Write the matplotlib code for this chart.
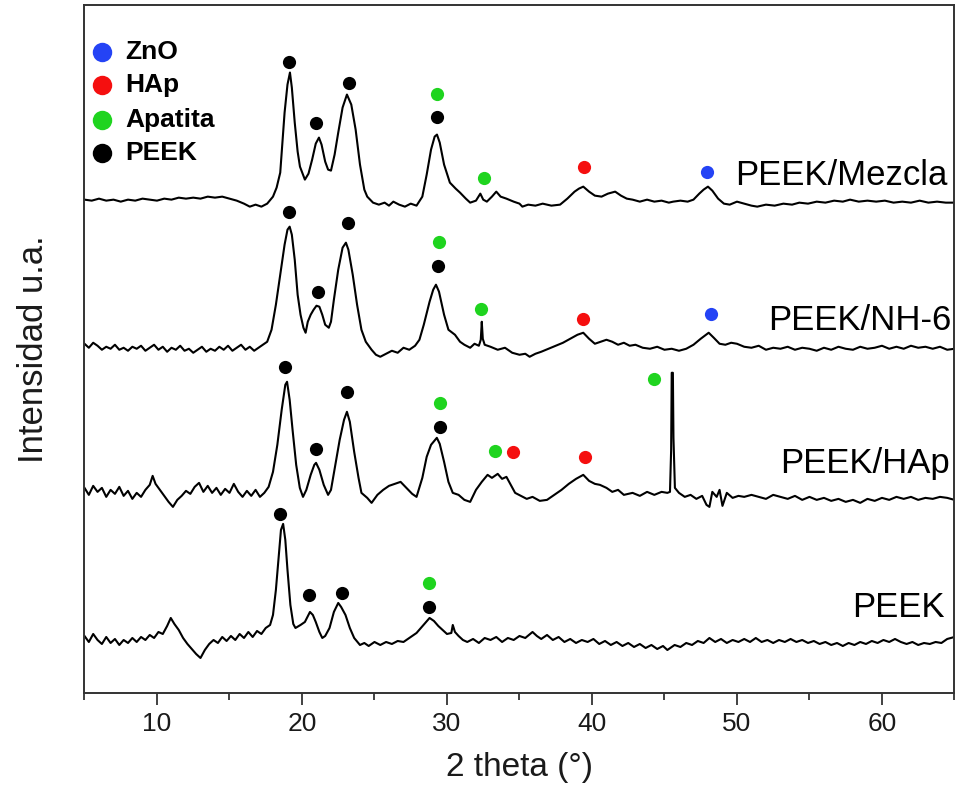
import matplotlib
matplotlib.use("Agg")
import matplotlib.pyplot as plt

plt.rcParams['font.family'] = ['Liberation Sans', 'DejaVu Sans']

# -------------------
# XRD traces: (2 theta, intensity a.u.), already stacked
# -------------------
mezcla = [
    (5.0, 500), (5.5, 499), (6.0, 501), (6.5, 499), (7.0, 500), (7.5, 498), (8.0, 500),
    (8.5, 499), (9.0, 501), (9.5, 500), (10.0, 499), (10.5, 501), (11.0, 500), (11.5, 502),
    (12.0, 501), (12.5, 502), (13.0, 501), (13.5, 503), (14.0, 502), (14.5, 503), (15.0, 501),
    (15.5, 499), (16.0, 496), (16.4, 493), (16.8, 495), (17.2, 493), (17.6, 496), (18.0, 503),
    (18.25, 512), (18.5, 527), (18.8, 587), (19.0, 615), (19.17, 627), (19.3, 612), (19.5, 577),
    (19.7, 548), (19.86, 533), (20.2, 520), (20.45, 526), (20.7, 540), (20.95, 556), (21.17, 562),
    (21.35, 555), (21.6, 538), (21.8, 530), (22.0, 529), (22.25, 545), (22.5, 567), (22.8, 592),
    (23.1, 605), (23.4, 595), (23.7, 570), (24.0, 535), (24.3, 510), (24.5, 503), (24.9, 497),
    (25.3, 495), (25.7, 497), (26.0, 494), (26.3, 498), (26.7, 495), (27.1, 493), (27.5, 496),
    (27.9, 494), (28.3, 503), (28.6, 525), (28.9, 550), (29.15, 563), (29.31, 565), (29.5, 557),
    (29.8, 535), (30.2, 517), (30.6, 511), (30.9, 507), (31.3, 501), (31.6, 497), (32.0, 499),
    (32.3, 506), (32.5, 500), (32.75, 498), (33.1, 503), (33.4, 508), (33.7, 503), (34.1, 501),
    (34.6, 498), (35.0, 496), (35.2, 493), (35.6, 495), (36.1, 494), (36.6, 496), (37.2, 494),
    (37.8, 495), (38.3, 501), (38.8, 508), (39.1, 511), (39.4, 513), (39.8, 508), (40.2, 504),
    (40.66, 503), (41.1, 506), (41.6, 508), (42.0, 504), (42.4, 501), (42.8, 500), (43.3, 498),
    (43.8, 500), (44.3, 498), (44.8, 499), (45.3, 497), (45.6, 498), (46.1, 499), (46.6, 498),
    (47.0, 500), (47.4, 506), (47.7, 510), (48.0, 513), (48.3, 509), (48.7, 501), (49.1, 496),
    (49.5, 495), (50.0, 498), (50.5, 496), (51.0, 494), (51.4, 493), (52.0, 495), (52.6, 494),
    (53.2, 496), (53.8, 495), (54.3, 497), (54.9, 496), (55.5, 498), (56.1, 497), (56.7, 499),
    (57.3, 498), (57.8, 500), (58.4, 498), (59.0, 499), (59.6, 498), (60.2, 499), (60.8, 497),
    (61.4, 498), (62.0, 497), (62.6, 499), (63.2, 497), (63.8, 498), (64.4, 497), (65.0, 497),
]

nh6 = [
    (5.0, 356), (5.3, 352), (5.6, 357), (5.9, 354), (6.2, 350), (6.5, 353), (6.8, 351),
    (7.1, 355), (7.4, 350), (7.7, 352), (8.0, 349), (8.3, 353), (8.6, 351), (8.9, 354),
    (9.2, 349), (9.5, 352), (9.8, 355), (10.1, 350), (10.4, 353), (10.7, 348), (11.0, 352),
    (11.3, 350), (11.6, 354), (11.9, 349), (12.2, 351), (12.5, 347), (12.8, 350), (13.1, 353),
    (13.4, 348), (13.7, 351), (14.0, 349), (14.3, 353), (14.6, 350), (14.9, 354), (15.2, 349),
    (15.5, 352), (15.8, 355), (16.1, 350), (16.4, 353), (16.7, 349), (17.0, 352), (17.3, 355),
    (17.6, 358), (17.9, 370), (18.2, 395), (18.5, 425), (18.8, 455), (19.0, 470), (19.15, 473),
    (19.3, 465), (19.5, 440), (19.7, 405), (19.9, 385), (20.1, 372), (20.25, 367), (20.4, 378),
    (20.6, 385), (20.8, 390), (21.0, 394), (21.2, 393), (21.4, 385), (21.6, 375), (21.85, 372),
    (22.0, 378), (22.2, 400), (22.5, 430), (22.8, 452), (23.03, 457), (23.2, 450), (23.5, 425),
    (23.8, 395), (24.1, 370), (24.4, 358), (24.8, 350), (25.1, 345), (25.4, 343), (25.8, 346),
    (26.2, 349), (26.6, 347), (27.0, 352), (27.4, 350), (27.8, 354), (28.1, 360), (28.4, 375),
    (28.8, 398), (29.05, 410), (29.24, 415), (29.45, 408), (29.8, 385), (30.1, 370), (30.55, 365),
    (30.9, 358), (31.2, 355), (31.6, 352), (31.9, 356), (32.2, 354), (32.33, 360), (32.4, 378),
    (32.47, 361), (32.6, 355), (33.0, 353), (33.5, 350), (34.0, 352), (34.5, 347), (35.0, 345),
    (35.4, 346), (35.7, 343), (36.1, 346), (36.5, 348), (37.0, 351), (37.5, 354), (38.0, 357),
    (38.5, 361), (39.0, 365), (39.4, 367), (39.8, 361), (40.2, 356), (40.6, 358), (41.0, 360),
    (41.4, 358), (41.8, 355), (42.2, 357), (42.6, 354), (43.0, 355), (43.5, 352), (44.0, 351),
    (44.5, 353), (45.0, 350), (45.5, 351), (46.0, 349), (46.5, 351), (47.0, 355), (47.5, 361),
    (48.05, 367), (48.4, 362), (48.8, 356), (49.2, 355), (49.6, 357), (50.0, 356), (50.5, 353),
    (51.0, 352), (51.5, 354), (52.0, 350), (52.5, 352), (53.0, 351), (53.5, 353), (54.0, 350),
    (54.5, 352), (55.0, 351), (55.5, 349), (56.0, 352), (56.5, 350), (57.0, 353), (57.5, 351),
    (58.0, 350), (58.5, 353), (59.0, 351), (59.5, 352), (60.0, 354), (60.5, 351), (61.0, 353),
    (61.5, 351), (62.0, 354), (62.5, 352), (63.0, 353), (63.5, 351), (64.0, 353), (64.5, 350),
    (65.0, 351),
]

hap = [
    (5.0, 212), (5.3, 205), (5.6, 214), (5.9, 208), (6.2, 212), (6.5, 203), (6.8, 210),
    (7.1, 206), (7.4, 213), (7.7, 204), (8.0, 209), (8.3, 201), (8.6, 207), (8.9, 203),
    (9.2, 210), (9.5, 215), (9.7, 224), (9.9, 216), (10.2, 210), (10.5, 204), (10.8, 198),
    (11.1, 193), (11.4, 200), (11.7, 204), (12.0, 209), (12.3, 206), (12.6, 213), (12.9, 217),
    (13.2, 208), (13.5, 214), (13.8, 207), (14.1, 212), (14.4, 205), (14.7, 211), (15.0, 207),
    (15.3, 216), (15.6, 208), (15.9, 203), (16.2, 209), (16.5, 204), (16.8, 210), (17.1, 203),
    (17.4, 207), (17.7, 213), (18.0, 228), (18.3, 255), (18.6, 290), (18.85, 315), (18.97, 318),
    (19.15, 300), (19.35, 270), (19.6, 235), (19.85, 212), (20.07, 203), (20.3, 210), (20.6, 225),
    (20.85, 235), (20.97, 237), (21.2, 230), (21.5, 215), (21.8, 205), (22.0, 210), (22.3, 235),
    (22.6, 260), (22.9, 280), (23.1, 288), (23.3, 278), (23.6, 248), (23.9, 222), (24.1, 207),
    (24.5, 202), (24.8, 197), (25.2, 205), (25.6, 210), (26.0, 214), (26.4, 216), (26.8, 218),
    (27.2, 212), (27.6, 206), (27.9, 203), (28.3, 222), (28.6, 243), (28.9, 255), (29.3, 262),
    (29.5, 256), (29.8, 238), (30.1, 218), (30.4, 207), (30.8, 205), (31.2, 200), (31.6, 198),
    (32.0, 210), (32.4, 218), (32.8, 225), (33.1, 222), (33.5, 226), (33.8, 221), (34.1, 223),
    (34.4, 215), (34.7, 207), (35.1, 204), (35.5, 201), (35.9, 203), (36.4, 199), (36.9, 200),
    (37.4, 205), (37.9, 210), (38.4, 216), (38.9, 221), (39.4, 225), (39.8, 219), (40.2, 216),
    (40.55, 215), (41.0, 212), (41.4, 208), (41.8, 210), (42.2, 205), (42.8, 207), (43.3, 204),
    (43.8, 208), (44.3, 205), (44.8, 208), (45.2, 207), (45.38, 208), (45.46, 250), (45.5, 327),
    (45.58, 327), (45.62, 262), (45.72, 212), (46.0, 207), (46.4, 203), (46.8, 205), (47.2, 201),
    (47.6, 204), (47.9, 195), (48.1, 193), (48.3, 208), (48.6, 203), (48.8, 210), (49.0, 194),
    (49.3, 207), (49.7, 202), (50.1, 204), (50.5, 203), (51.0, 205), (51.5, 203), (52.0, 201),
    (52.5, 205), (53.0, 203), (53.5, 201), (54.0, 204), (54.5, 200), (55.0, 203), (55.5, 200),
    (56.0, 202), (56.5, 199), (57.0, 201), (57.5, 198), (58.0, 200), (58.5, 197), (59.0, 201),
    (59.5, 199), (60.0, 202), (60.5, 200), (61.0, 203), (61.5, 201), (62.0, 203), (62.5, 200),
    (63.0, 202), (63.5, 201), (64.0, 203), (64.5, 202), (65.0, 200),
]

peek = [
    (5.0, 64), (5.3, 58), (5.6, 66), (5.9, 60), (6.2, 56), (6.5, 63), (6.8, 57), (7.1, 61),
    (7.4, 55), (7.7, 60), (8.0, 57), (8.3, 62), (8.6, 58), (8.9, 63), (9.2, 60), (9.5, 65),
    (9.8, 62), (10.1, 68), (10.4, 66), (10.7, 74), (10.95, 82), (11.2, 76), (11.5, 70),
    (11.8, 62), (12.1, 56), (12.4, 51), (12.7, 46), (13.0, 42), (13.3, 50), (13.6, 56),
    (13.9, 60), (14.2, 57), (14.5, 63), (14.8, 59), (15.1, 64), (15.4, 60), (15.7, 66),
    (16.0, 62), (16.3, 68), (16.6, 63), (16.9, 69), (17.2, 66), (17.5, 72), (17.8, 75),
    (18.0, 85), (18.2, 110), (18.4, 145), (18.55, 170), (18.7, 176), (18.85, 160), (19.0, 130),
    (19.2, 95), (19.4, 76), (19.55, 72), (19.9, 75), (20.2, 78), (20.55, 88), (20.75, 85),
    (20.95, 78), (21.2, 68), (21.4, 62), (21.6, 64), (21.9, 72), (22.2, 88), (22.5, 97),
    (22.7, 93), (23.0, 85), (23.3, 72), (23.6, 62), (24.0, 55), (24.3, 57), (24.6, 54),
    (25.0, 58), (25.4, 55), (25.8, 58), (26.2, 56), (26.6, 59), (27.0, 58), (27.4, 62),
    (27.9, 67), (28.2, 72), (28.5, 77), (28.8, 82), (29.1, 79), (29.4, 74), (29.7, 70),
    (30.0, 66), (30.3, 67), (30.4, 75), (30.55, 68), (30.8, 64), (31.1, 60), (31.4, 58),
    (31.8, 61), (32.2, 57), (32.6, 62), (33.0, 60), (33.4, 63), (33.8, 58), (34.2, 62),
    (34.6, 60), (35.0, 64), (35.4, 62), (35.9, 68), (36.2, 64), (36.5, 61), (36.9, 65),
    (37.3, 60), (37.7, 63), (38.1, 58), (38.5, 61), (38.9, 57), (39.3, 60), (39.7, 58),
    (40.1, 61), (40.5, 56), (40.9, 59), (41.3, 55), (41.7, 58), (42.1, 54), (42.5, 57),
    (42.9, 53), (43.3, 56), (43.7, 52), (44.1, 55), (44.5, 51), (44.9, 54), (45.2, 50),
    (45.7, 55), (46.1, 53), (46.5, 57), (46.9, 55), (47.3, 59), (47.7, 57), (48.1, 62),
    (48.5, 58), (48.9, 61), (49.3, 57), (49.7, 60), (50.1, 58), (50.5, 61), (50.9, 58),
    (51.3, 62), (51.7, 58), (52.1, 60), (52.5, 57), (52.9, 60), (53.3, 58), (53.7, 61),
    (54.1, 58), (54.5, 60), (54.9, 57), (55.3, 59), (55.7, 56), (56.1, 58), (56.5, 55),
    (56.9, 57), (57.3, 54), (57.7, 57), (58.1, 55), (58.5, 58), (58.9, 56), (59.3, 59),
    (59.7, 57), (60.1, 60), (60.5, 58), (60.9, 61), (61.3, 58), (61.7, 56), (62.1, 58),
    (62.5, 55), (62.9, 57), (63.3, 56), (63.7, 58), (64.1, 57), (64.5, 61), (65.0, 63),
]

sample_names = ["PEEK/Mezcla", "PEEK/NH-6", "PEEK/HAp", "PEEK"]
traces = [mezcla, nh6, hap, peek]
# where each sample name sits (2 theta of right edge, intensity of baseline)
name_pos = [(64.55, 515), (64.8, 370), (64.67, 227), (64.33, 83)]

# phase markers above the peaks: (2 theta, intensity, phase)
phase_marks = [
    # PEEK/Mezcla
    (19.10, 638, "PEEK"), (20.97, 577, "PEEK"), (23.24, 617, "PEEK"), (29.31, 606, "Apatita"),
    (29.31, 583, "PEEK"), (32.55, 522, "Apatita"), (39.45, 533, "HAp"), (47.93, 528, "ZnO"),
    # PEEK/NH-6
    (19.10, 488, "PEEK"), (21.10, 408, "PEEK"), (23.17, 477, "PEEK"), (29.45, 458, "Apatita"),
    (29.38, 434, "PEEK"), (32.34, 391, "Apatita"), (39.38, 381, "HAp"), (48.21, 386, "ZnO"),
    # PEEK/HAp
    (18.83, 333, "PEEK"), (20.97, 251, "PEEK"), (23.10, 308, "PEEK"), (29.52, 297, "Apatita"),
    (29.52, 273, "PEEK"), (33.31, 249, "Apatita"), (34.55, 248, "HAp"), (39.52, 243, "HAp"),
    (44.27, 321, "Apatita"),
    # PEEK
    (18.48, 186, "PEEK"), (20.48, 105, "PEEK"), (22.76, 107, "PEEK"), (28.76, 117, "Apatita"),
    (28.76, 93, "PEEK"),
]

phases = ["ZnO", "HAp", "Apatita", "PEEK"]
phase_colors = {"ZnO": "#2443f5", "HAp": "#f50f0f", "Apatita": "#1fd41f", "PEEK": "#000000"}

# -------------------
# Plot
# -------------------
fig = plt.figure(figsize=(9.58, 8.05), dpi=100)
ax = fig.add_axes([0.0882, 0.1391, 0.9081, 0.8547])

for trace in traces:
    xs = [p[0] for p in trace]
    ys = [p[1] for p in trace]
    ax.plot(xs, ys, color="black", lw=1.5, solid_joinstyle="round")

for x, y, ph in phase_marks:
    ax.plot(x, y, "o", color=phase_colors[ph], ms=9.5, mew=0, zorder=5)

for name, (x, y) in zip(sample_names, name_pos):
    ax.text(x, y, name, ha="right", va="baseline", fontsize=25, color="black")

# legend drawn by hand (top-left)
leg_y = [0.931, 0.883, 0.8335, 0.7855]
for ph, y in zip(phases, leg_y):
    ax.plot(0.0205, y, "o", color=phase_colors[ph], ms=14, mew=0, transform=ax.transAxes)
    ax.text(0.0466, y, ph, transform=ax.transAxes, ha="left", va="center",
            fontsize=19, fontweight="bold", color="black")

ax.set_xlim(5, 65)
ax.set_ylim(7, 694.5)
ax.set_xticks([10, 20, 30, 40, 50, 60])
ax.set_xticks([5, 15, 25, 35, 45, 55, 65], minor=True)
ax.set_yticks([])
ax.tick_params(axis="x", which="major", length=8.5, width=1.3, direction="out",
               labelsize=19, pad=5, colors="#333333", labelcolor="#1a1a1a")
ax.tick_params(axis="x", which="minor", length=5, width=1.3, direction="out", colors="#333333")
for s in ax.spines.values():
    s.set_linewidth(1.4)
    s.set_color("#333333")

ax.set_xlabel("2 theta (°)", fontsize=24, labelpad=12, color="#1a1a1a")
ax.set_ylabel("Intensidad u.a.", fontsize=25, labelpad=25, color="#1a1a1a")

fig.savefig("out.png", dpi=100)
